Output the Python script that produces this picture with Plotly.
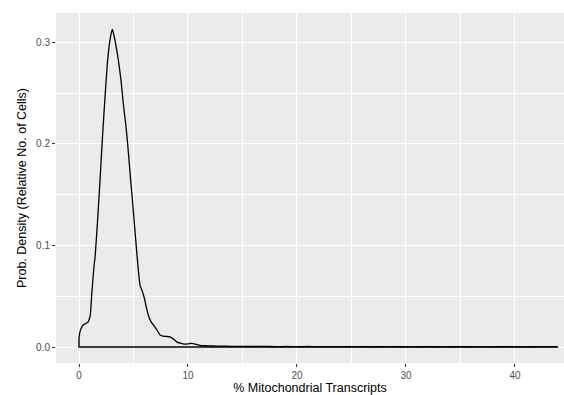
import plotly.graph_objects as go

# Density curve (x = % mito, y = density)
mito_pct = [0.0, 0.09, 0.25, 0.39, 0.55, 0.7, 0.86, 0.96, 1.04, 1.10, 1.16, 1.24, 1.31, 1.39,
            1.47, 1.59, 1.71, 1.82, 1.93, 2.04, 2.14, 2.29, 2.45, 2.63, 2.84, 2.96, 3.06,
            3.18, 3.30, 3.45, 3.61, 3.85, 4.06, 4.28, 4.43, 4.59, 4.74, 4.90, 5.05, 5.20,
            5.35, 5.47, 5.6, 5.8, 6.0, 6.2, 6.4, 6.6, 6.8, 6.97, 7.2, 7.43, 7.7, 8.0, 8.35,
            8.65, 8.96, 9.3, 9.7, 10.0, 10.34, 10.7, 11.1, 11.6, 12.3,
            13.0, 14.0, 15.0, 16.0, 17.0, 18.0, 19.0, 20.0, 21.0, 22.0, 23.0, 24.0, 25.0,
            26.0, 27.0, 28.0, 29.0, 30.0, 31.0, 32.0, 33.0, 34.0, 35.0, 36.0, 37.0, 38.0,
            39.0, 40.0, 41.0, 42.0, 43.0, 43.9]
density = [0.0085, 0.0150, 0.0195, 0.0216, 0.0228, 0.0236, 0.0250, 0.0280, 0.0315, 0.0400,
           0.0510, 0.0610, 0.0709, 0.0810, 0.0880, 0.1060, 0.1250, 0.1450, 0.1640, 0.1850,
           0.2040, 0.2300, 0.2560, 0.2825, 0.3020, 0.3090, 0.3127, 0.3080, 0.3020, 0.2930,
           0.2825, 0.2630, 0.2400, 0.2200, 0.2040, 0.1840, 0.1640, 0.1450, 0.1250, 0.1060,
           0.0870, 0.0730, 0.0610, 0.0550, 0.0480, 0.0380, 0.0300, 0.0250, 0.0220, 0.0195,
           0.0160, 0.0118, 0.0108, 0.0104, 0.0100, 0.0080, 0.0050, 0.0037, 0.0028, 0.0030,
           0.0036, 0.0028, 0.0017, 0.0013, 0.0010,
           0.0008, 0.0007, 0.0006, 0.0005, 0.0006, 0.0004, 0.0005, 0.0004, 0.0005, 0.0003,
           0.0004, 0.0003, 0.0004, 0.0003, 0.0002, 0.0003, 0.0003, 0.0002, 0.0002, 0.0003,
           0.0002, 0.0002, 0.0003, 0.0002, 0.0002, 0.0002, 0.0003, 0.0002, 0.0002, 0.0003,
           0.0003, 0.0003]

x_ticks = [0, 10, 20, 30, 40]
y_ticks = [0.0, 0.1, 0.2, 0.3]
y_tick_labels = ["0.0", "0.1", "0.2", "0.3"]

# baseline part of the ggplot geom_density outline (straight segments)
base_x = [mito_pct[0], mito_pct[0], mito_pct[-1], mito_pct[-1]]
base_y = [density[0], 0.0, 0.0, density[-1]]

fig = go.Figure()
fig.add_trace(go.Scatter(x=base_x, y=base_y, mode="lines",
                         line=dict(color="black", width=1.4),
                         hoverinfo="skip", showlegend=False))
fig.add_trace(go.Scatter(x=mito_pct, y=density, mode="lines",
                         line=dict(color="black", width=1.3, shape="spline", smoothing=0.5),
                         hoverinfo="skip", showlegend=False))

axis_font = dict(family="Liberation Sans, Arial, sans-serif", size=10, color="#4D4D4D")
title_font = dict(family="Liberation Sans, Arial, sans-serif", size=12.5, color="black")

fig.update_layout(
    width=564, height=395,
    margin=dict(l=56, r=0, t=13, b=32),
    paper_bgcolor="white", plot_bgcolor="#EBEBEB",
    showlegend=False,
    xaxis=dict(range=[-2.11, 44.5], tickvals=x_ticks, ticks="outside", ticklen=3,
               tickcolor="#333333", tickwidth=1, tickfont=axis_font,
               showgrid=True, gridcolor="white", gridwidth=1.4, zeroline=False,
               showline=False,
               minor=dict(dtick=5, tick0=0, showgrid=True, gridcolor="white", gridwidth=0.7, ticklen=0),
               title=dict(text="% Mitochondrial Transcripts", font=title_font, standoff=3)),
    yaxis=dict(range=[-0.01575, 0.3288], tickvals=y_ticks, ticktext=y_tick_labels,
               ticks="outside", ticklen=3, tickcolor="#333333", tickwidth=1, tickfont=axis_font,
               showgrid=True, gridcolor="white", gridwidth=1.4, zeroline=False,
               showline=False,
               minor=dict(dtick=0.05, tick0=0, showgrid=True, gridcolor="white", gridwidth=0.7, ticklen=0),
               title=dict(text="Prob. Density (Relative No. of Cells)", font=title_font, standoff=6)),
)

fig.write_html("out.html")
